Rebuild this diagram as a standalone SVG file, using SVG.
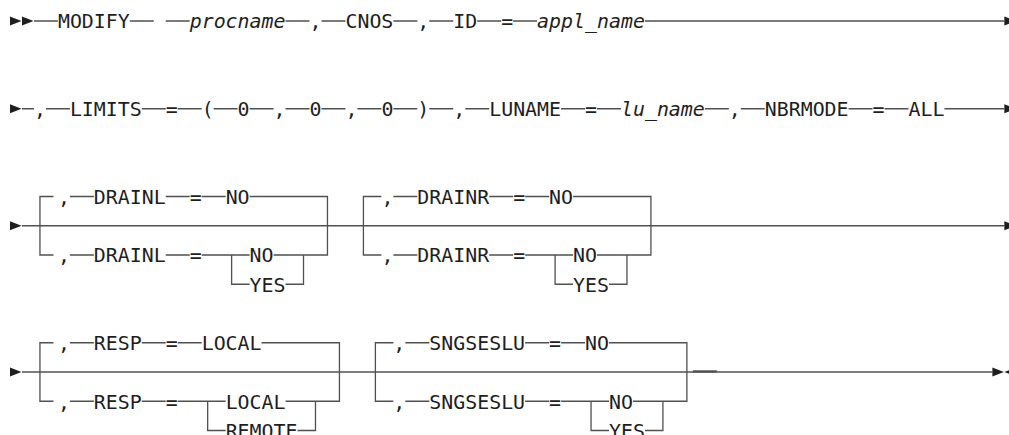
<svg xmlns="http://www.w3.org/2000/svg" xmlns:xlink="http://www.w3.org/1999/xlink" width="1009" height="435" viewBox="0 0 1009 435">
<style>
.t{font-family:"DejaVu Sans Mono","Liberation Mono",monospace;font-size:19.9px;fill:#1e1e1e}
.i{font-style:italic}
.ln{fill:none;stroke:#505050;stroke-width:1.3}
.hd{fill:#1e1e1e}
</style>
<defs>
<path id="head" d="M0 -4.5L11.5 0L0 4.5Z"/>
<path id="back" d="M0 0L11.5 -4.5L11.5 4.5Z"/>
</defs>
<rect width="1009" height="435" fill="#fff"/>
<g id="connectors">
<path class="ln" d="M33.96 21H57.92M129.8 21H153.76M165.74 21H189.7M285.54 21H309.5M321.48 21H345.44M393.36 21H417.32M429.3 21H453.26M477.22 21H501.18M513.16 21H537.12M644.94 21H1004.34"/>
<path class="ln" d="M21.98 108.75H33.96M45.94 108.75H69.9M141.78 108.75H165.74M177.72 108.75H201.68M213.66 108.75H237.62M249.6 108.75H273.56M285.54 108.75H309.5M321.48 108.75H345.44M357.42 108.75H381.38M393.36 108.75H417.32M429.3 108.75H453.26M465.24 108.75H489.2M561.08 108.75H585.04M597.02 108.75H620.98M704.84 108.75H728.8M740.78 108.75H764.74M848.6 108.75H872.56M884.54 108.75H908.5M944.44 108.75H1004.34"/>
<path class="ln" d="M21.98 225.75H1004.34"/>
<path class="ln" d="M53.5 196.5H39.95V255H53.5M69.9 196.5H93.86M165.74 196.5H189.7M201.68 196.5H225.64M249.6 196.5H327.47V255H273.56M69.9 255H93.86M165.74 255H189.7M201.68 255H249.6M231.63 255V284.25H249.6M303.51 255V284.25H285.54"/>
<path class="ln" d="M381.38 196.5H363.41V255H381.38M393.36 196.5H417.32M489.2 196.5H513.16M525.14 196.5H549.1M573.06 196.5H650.93V255H597.02M393.36 255H417.32M489.2 255H513.16M525.14 255H573.06M555.09 255V284.25H573.06M626.97 255V284.25H609"/>
<path class="ln" d="M21.98 372H992.36"/>
<path class="ln" d="M53.5 342.75H39.95V401.25H53.5M69.9 342.75H93.86M141.78 342.75H165.74M177.72 342.75H201.68M261.58 342.75H339.45V401.25H285.54M69.9 401.25H93.86M141.78 401.25H165.74M177.72 401.25H225.64M207.67 401.25V430.5H225.64M315.49 401.25V430.5H297.52"/>
<path class="ln" d="M393.36 342.75H375.39V401.25H393.36M405.34 342.75H429.3M525.14 342.75H549.1M561.08 342.75H585.04M609 342.75H686.87V401.25H632.96M405.34 401.25H429.3M525.14 401.25H549.1M561.08 401.25H609M591.03 401.25V430.5H609M662.91 401.25V430.5H644.94"/>
<path class="ln" d="M692.86 371.4H716.82" style="stroke-width:2.2"/>
<g class="hd">
<use href="#head" x="10" y="21"/><use href="#head" x="21.98" y="21"/>
<use href="#head" x="1004.34" y="21"/>
<use href="#head" x="10" y="108.75"/><use href="#head" x="1004.34" y="108.75"/>
<use href="#head" x="10" y="225.75"/><use href="#head" x="1004.34" y="225.75"/>
<use href="#head" x="10" y="372"/><use href="#head" x="992.36" y="372"/><use href="#back" x="1004.34" y="372"/>
</g>
</g>
<g id="row1">
<g id="n-modify"><text class="t" x="57.92" y="28.25">MODIFY</text></g>
<g id="n-procname"><text class="t i" x="189.7" y="28.25">procname</text></g>
<g id="n-c1"><text class="t" x="309.5" y="28.25">,</text></g>
<g id="n-cnos"><text class="t" x="345.44" y="28.25">CNOS</text></g>
<g id="n-c2"><text class="t" x="417.32" y="28.25">,</text></g>
<g id="n-id"><text class="t" x="453.26" y="28.25">ID</text></g>
<g id="n-eq1"><text class="t" x="501.18" y="28.25">=</text></g>
<g id="n-applname"><text class="t i" x="537.12" y="28.25">appl_name</text></g>
</g>
<g id="row2">
<g id="n-c3"><text class="t" x="33.96" y="116">,</text></g>
<g id="n-limits"><text class="t" x="69.9" y="116">LIMITS</text></g>
<g id="n-eq2"><text class="t" x="165.74" y="116">=</text></g>
<g id="n-lp"><text class="t" x="201.68" y="116">(</text></g>
<g id="n-z1"><text class="t" x="237.62" y="116">0</text></g>
<g id="n-c4"><text class="t" x="273.56" y="116">,</text></g>
<g id="n-z2"><text class="t" x="309.5" y="116">0</text></g>
<g id="n-c5"><text class="t" x="345.44" y="116">,</text></g>
<g id="n-z3"><text class="t" x="381.38" y="116">0</text></g>
<g id="n-rp"><text class="t" x="417.32" y="116">)</text></g>
<g id="n-c6"><text class="t" x="453.26" y="116">,</text></g>
<g id="n-luname"><text class="t" x="489.2" y="116">LUNAME</text></g>
<g id="n-eq3"><text class="t" x="585.04" y="116">=</text></g>
<g id="n-lu_name"><text class="t i" x="620.98" y="116">lu_name</text></g>
<g id="n-c7"><text class="t" x="728.8" y="116">,</text></g>
<g id="n-nbrmode"><text class="t" x="764.74" y="116">NBRMODE</text></g>
<g id="n-eq4"><text class="t" x="872.56" y="116">=</text></g>
<g id="n-all"><text class="t" x="908.5" y="116">ALL</text></g>
</g>
<g id="row3">
<g id="n-drainl-def">
<text class="t" x="57.92" y="203.75">,</text>
<text class="t" x="93.86" y="203.75">DRAINL</text>
<text class="t" x="189.7" y="203.75">=</text>
<text class="t" x="225.64" y="203.75">NO</text>
</g>
<g id="n-drainl-opt">
<text class="t" x="57.92" y="262.25">,</text>
<text class="t" x="93.86" y="262.25">DRAINL</text>
<text class="t" x="189.7" y="262.25">=</text>
<text class="t" x="249.6" y="262.25">NO</text>
<text class="t" x="249.6" y="291.5">YES</text>
</g>
<g id="n-drainr-def">
<text class="t" x="381.38" y="203.75">,</text>
<text class="t" x="417.32" y="203.75">DRAINR</text>
<text class="t" x="513.16" y="203.75">=</text>
<text class="t" x="549.1" y="203.75">NO</text>
</g>
<g id="n-drainr-opt">
<text class="t" x="381.38" y="262.25">,</text>
<text class="t" x="417.32" y="262.25">DRAINR</text>
<text class="t" x="513.16" y="262.25">=</text>
<text class="t" x="573.06" y="262.25">NO</text>
<text class="t" x="573.06" y="291.5">YES</text>
</g>
</g>
<g id="row4">
<g id="n-resp-def">
<text class="t" x="57.92" y="350">,</text>
<text class="t" x="93.86" y="350">RESP</text>
<text class="t" x="165.74" y="350">=</text>
<text class="t" x="201.68" y="350">LOCAL</text>
</g>
<g id="n-resp-opt">
<text class="t" x="57.92" y="408.5">,</text>
<text class="t" x="93.86" y="408.5">RESP</text>
<text class="t" x="165.74" y="408.5">=</text>
<text class="t" x="225.64" y="408.5">LOCAL</text>
<text class="t" x="225.64" y="437.75">REMOTE</text>
</g>
<g id="n-sng-def">
<text class="t" x="393.36" y="350">,</text>
<text class="t" x="429.3" y="350">SNGSESLU</text>
<text class="t" x="549.1" y="350">=</text>
<text class="t" x="585.04" y="350">NO</text>
</g>
<g id="n-sng-opt">
<text class="t" x="393.36" y="408.5">,</text>
<text class="t" x="429.3" y="408.5">SNGSESLU</text>
<text class="t" x="549.1" y="408.5">=</text>
<text class="t" x="609" y="408.5">NO</text>
<text class="t" x="609" y="437.75">YES</text>
</g>
</g>
</svg>
